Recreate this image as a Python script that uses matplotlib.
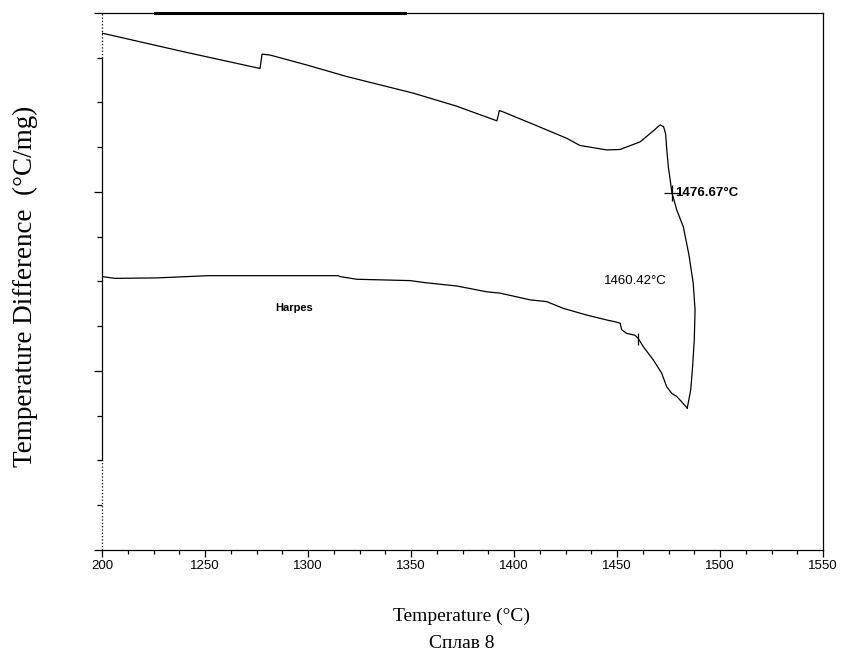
import matplotlib.pyplot as plt
from matplotlib.ticker import MultipleLocator, FixedLocator, FixedFormatter
import numpy as np

# DTA trace: heating branch then cooling branch back to 1200
heat_temp = [1200.0, 1240.0, 1276.7, 1277.7, 1281.6, 1300.0, 1318.8, 1351.0,
             1372.0, 1391.7, 1392.9, 1394.7, 1410.0, 1425.6, 1432.0, 1445.0,
             1451.5, 1461.2, 1468.0, 1470.9, 1472.6, 1473.6, 1474.1, 1474.9,
             1476.67, 1479.0, 1482.2, 1484.9, 1487.0, 1487.9, 1487.5, 1486.7,
             1485.8, 1484.1]
heat_dta = [11.55, 11.13, 10.76, 11.08, 11.06, 10.83, 10.58, 10.21,
            9.92, 9.59, 9.82, 9.79, 9.50, 9.20, 9.04, 8.94,
            8.95, 9.12, 9.38, 9.50, 9.46, 9.30, 8.98, 8.57,
            7.98, 7.60, 7.22, 6.60, 5.96, 5.36, 4.69, 4.10,
            3.58, 3.17]

cool_temp = [1484.1, 1481.4, 1479.0, 1476.6, 1474.1, 1471.7, 1467.6, 1462.8,
             1460.42, 1458.7, 1454.7, 1452.3, 1451.5, 1449.0, 1445.0, 1435.3,
             1423.9, 1415.9, 1407.8, 1393.2, 1386.7, 1372.2, 1357.6, 1349.5,
             1323.6, 1315.5, 1314.7, 1251.6, 1226.6, 1206.3, 1200.0]
cool_dta = [3.17, 3.31, 3.43, 3.50, 3.65, 3.95, 4.25, 4.54,
            4.72, 4.80, 4.84, 4.92, 5.07, 5.10, 5.14, 5.25,
            5.40, 5.55, 5.59, 5.74, 5.77, 5.90, 5.97, 6.02,
            6.05, 6.11, 6.13, 6.13, 6.08, 6.07, 6.11]

onset_heat = (1476.67, 7.98)
onset_cool = (1460.42, 4.72)

x_ticks = [1200, 1250, 1300, 1350, 1400, 1450, 1500, 1550]
x_labels = ['200', '1250', '1300', '1350', '1400', '1450', '1500', '1550']

fig = plt.figure(figsize=(8.41, 6.59), dpi=100)
ax = fig.add_axes([0.1213, 0.1654, 0.8573, 0.8149])

ax.plot(heat_temp, heat_dta, color='black', lw=0.9)
ax.plot(cool_temp, cool_dta, color='black', lw=0.9)
ax.plot(*onset_heat, marker='+', color='black', ms=12, mew=0.9)
ax.plot(*onset_cool, marker='|', color='black', ms=9, mew=0.9)

ax.text(1478.3, onset_heat[1], '1476.67°C', fontsize=9.5, fontweight='bold',
        family='Liberation Sans', va='center', ha='left')
ax.text(1443.5, 6.0, '1460.42°C', fontsize=9.5, family='Liberation Sans',
        va='center', ha='left')
ax.text(1284, 5.4, 'Harpes', fontsize=8, fontweight='bold',
        family='Liberation Sans', va='center', ha='left')

ax.set_xlim(1200, 1550)
ax.set_ylim(0, 12)

ax.xaxis.set_major_locator(FixedLocator(x_ticks))
ax.xaxis.set_major_formatter(FixedFormatter(x_labels))
ax.xaxis.set_minor_locator(MultipleLocator(12.5))
ax.yaxis.set_major_locator(MultipleLocator(4))
ax.yaxis.set_minor_locator(MultipleLocator(1))
ax.set_yticklabels([])

ax.tick_params(axis='x', which='major', length=5, width=0.9, pad=2, labelsize=9.5)
ax.tick_params(axis='x', which='minor', length=3, width=0.9)
ax.tick_params(axis='y', which='major', length=6, width=0.9)
ax.tick_params(axis='y', which='minor', length=3.5, width=0.9)
for lab in ax.get_xticklabels():
    lab.set_family('Liberation Sans')

for s in ax.spines.values():
    s.set_linewidth(0.9)
ax.spines['left'].set_bounds(2, 11)
ax.plot([0, 0], [11, 12], transform=ax.get_yaxis_transform(), color='black',
        lw=0.9, ls=':', clip_on=False)
ax.plot([0, 0], [0, 2], transform=ax.get_yaxis_transform(), color='black',
        lw=0.9, ls=':', clip_on=False)
# thicker stretch along the top frame, as in the scan
ax.plot([1225.7, 1347], [1, 1], transform=ax.get_xaxis_transform(),
        color='black', lw=2.2, clip_on=False)

fig.text(0.549, 0.064, 'Temperature (°C)', ha='center', va='center',
         fontsize=14, family='Liberation Serif')
fig.text(0.549, 0.024, 'Сплав 8', ha='center', va='center',
         fontsize=14, family='Liberation Serif')
fig.text(0.030, 0.565, 'Temperature Difference  (°C/mg)', ha='center',
         va='center', rotation=90, fontsize=19.5, family='Liberation Serif')

fig.savefig('out.png', dpi=100)
plt.close(fig)
